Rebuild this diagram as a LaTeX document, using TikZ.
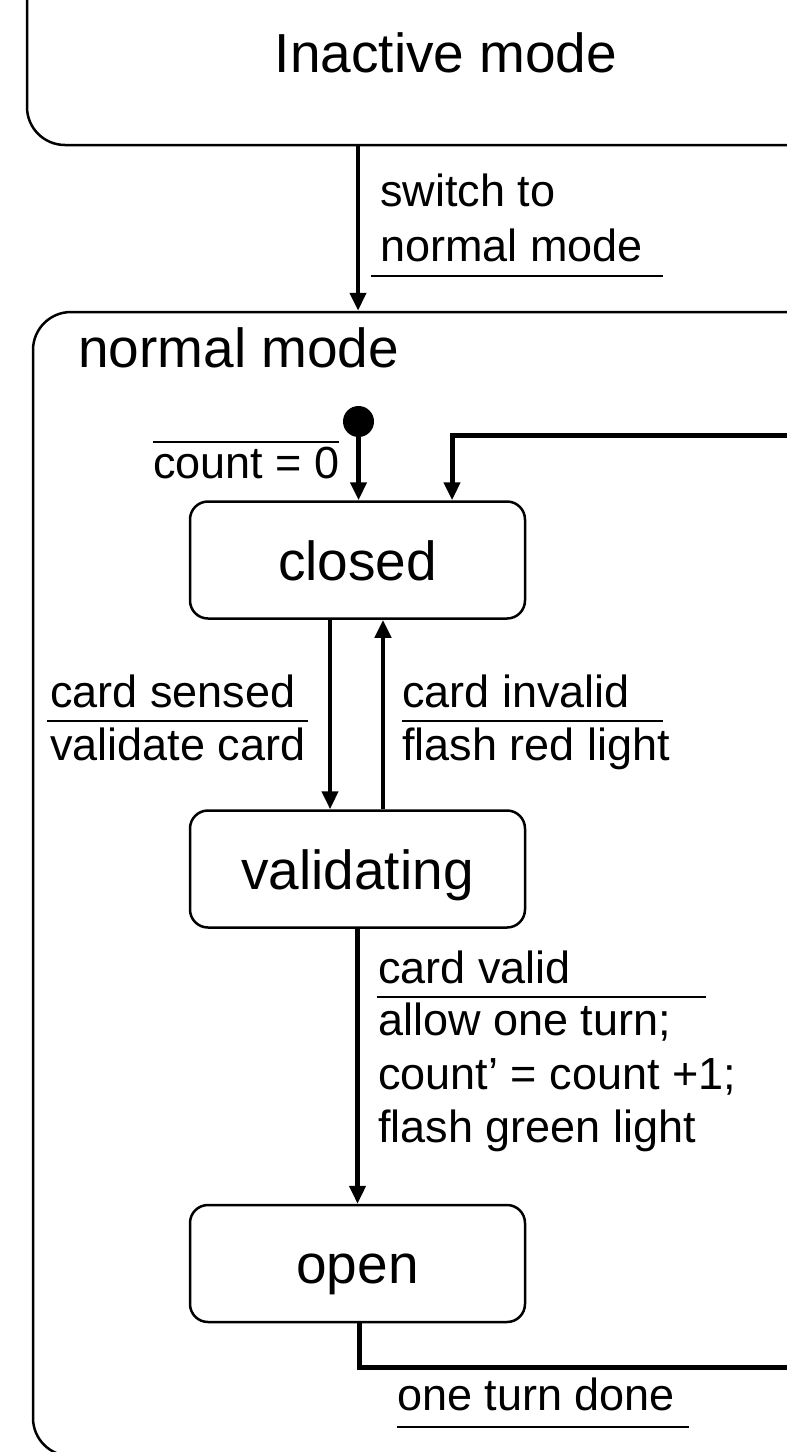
\documentclass[tikz,border=0pt]{standalone}
\usepackage{fontspec}
\setmainfont{Liberation Sans}
\usetikzlibrary{arrows.meta}
\begin{document}
\begin{tikzpicture}[x=1pt,y=-1pt,
  frame/.style={draw, line width=2.5pt, rounded corners=38pt, inner sep=0pt},
  state/.style={draw, line width=2.5pt, rounded corners=18pt, minimum width=335pt, minimum height=117pt,
    font=\fontsize{55}{60}\selectfont, text height=40pt, text depth=0pt, inner sep=0pt},
  title/.style={font=\fontsize{55}{60}\selectfont, inner sep=0pt},
  lab/.style={font=\fontsize{45}{54}\selectfont, inner sep=0pt, anchor=base west},
  arr/.style={line width=4.5pt, -{Triangle[width=16pt,length=18pt]}},
  ret/.style={line width=5pt, -{Triangle[width=16pt,length=18pt]}},
  sep/.style={line width=2.5pt}]
\useasboundingbox (0,0) rectangle (787,1452);
\clip (0,0) rectangle (787,1452);

% composite states
\node[frame, minimum width=1000pt, minimum height=345pt] (inactive) at (527,-27.5) {};
\node[title, anchor=base] (inactivet) at (446,72) {Inactive mode};
\node[frame, minimum width=1000pt, minimum height=1144pt] (normal) at (533,884) {};
\node[title, anchor=base west] (normalt) at (78,367) {normal mode};

% states
\node[state] (closed) at (357.5,560) {closed};
\node[state] (validating) at (357.5,869) {validating};
\node[state] (open) at (357.5,1263.5) {open};

% initial pseudo state
\node[circle, fill=black, minimum size=31pt, inner sep=0pt] (init) at (358.5,421.5) {};

% helper coordinates
\coordinate (xin) at (358,0);
\coordinate (r1) at (830,1367);
\coordinate (r2) at (830,435);

% transitions
\draw[arr] (inactive.south -| xin) -- (normal.north -| xin);
\draw[arr] (init.center) -- (init.center |- closed.north);
\draw[arr] ([xshift=-27.5pt]closed.south) -- ([xshift=-27.5pt]validating.north);
\draw[arr] ([xshift=25.5pt]validating.north) -- ([xshift=25.5pt]closed.south);
\draw[arr] (validating.south) -- (open.north);
\draw[ret] ([xshift=1.5pt]open.south) |- (r1) -- (r2) -| ([xshift=94.5pt]closed.north);

% labels
\node[lab] (l1a) at (380,206) {switch to};
\node[lab] (l1b) at (380,261) {normal mode};
\draw[sep] (371,276) -- (663,276);

\node[lab] (l2) at (153,478) {count = 0};
\draw[sep] (153,442) -- (339,442);

\node[lab] (l3a) at (50,707) {card sensed};
\node[lab] (l3b) at (50,760) {validate card};
\draw[sep] (47,721) -- (308,721);

\node[lab] (l4a) at (402,707) {card invalid};
\node[lab] (l4b) at (402,760) {flash red light};
\draw[sep] (402,721) -- (663,721);

\node[lab] (l5a) at (378,983) {card valid};
\draw[sep] (377,997) -- (706,997);
\node[lab] (l5b) at (378,1035) {allow one turn;};
\node[lab] (l5c) at (378,1089) {count’ = count +1;};
\node[lab] (l5d) at (378,1142) {flash green light};

\node[lab] (l6) at (397,1410) {one turn done};
\draw[sep] (397,1427) -- (689,1427);
\end{tikzpicture}
\end{document}
